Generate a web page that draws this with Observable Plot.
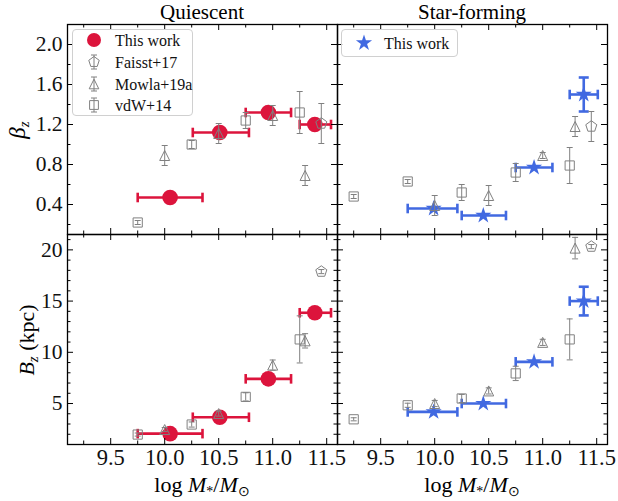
<!DOCTYPE html>
<html><head><meta charset="utf-8">
<script src="https://cdn.jsdelivr.net/npm/d3@7"></script>
<script src="https://cdn.jsdelivr.net/npm/@observablehq/plot@0.6"></script>
<style>
body{margin:0;background:#fff;}
#chart{position:relative;width:618px;height:501px;font-family:'Liberation Serif',serif;color:#000;overflow:hidden;background:#fff}
#chart svg{position:absolute;overflow:visible;background:none}
#chart svg text{font-family:'Liberation Serif',serif !important;}
.lbl{position:absolute;white-space:nowrap;line-height:1;}
.legend{position:absolute;border:1px solid #d0d0d0;border-radius:4px;background:rgba(255,255,255,0.85);}
</style></head><body><div id="chart"></div>
<script>
// ---------- axes ----------
const xDomain = [9.1, 11.6];
const xMajor = [9.5, 10.0, 10.5, 11.0, 11.5];
const xMinor = [9.25, 9.75, 10.25, 10.75, 11.25];
const betaDomain = [0.1, 2.2];
const betaMajor = [0.4, 0.8, 1.2, 1.6, 2.0];
const betaMinor = [0.2, 0.6, 1.0, 1.4, 1.8];
const bDomain = [1, 21.5];
const bMajor = [5, 10, 15, 20];
const bMinor = [2, 3, 4, 6, 7, 8, 9, 11, 12, 13, 14, 16, 17, 18, 19, 21];
const panelTitles = ["Quiescent", "Star-forming"];
const seriesNames = ["This work", "Faisst+17", "Mowla+19a", "vdW+14"];

// ---------- This work: quiescent ----------
const qMass = [10.05, 10.51, 10.96, 11.39];
const qMassLo = [9.75, 10.26, 10.75, 11.25];
const qMassHi = [10.35, 10.78, 11.17, 11.54];
const qBeta = [0.47, 1.12, 1.32, 1.20];
const qB = [2.06, 3.66, 7.41, 13.86];

// ---------- This work: star-forming ----------
const sMass = [9.99, 10.45, 10.92, 11.38];
const sMassLo = [9.75, 10.25, 10.75, 11.25];
const sMassHi = [10.21, 10.66, 11.09, 11.51];
const sBeta = [0.36, 0.29, 0.77, 1.50];
const sBetaErr = [0, 0, 0, 0.17];
const sB = [4.18, 5.0, 9.07, 15.0];
const sBErr = [0, 0, 0, 1.4];

// ---------- Faisst+17 ----------
const fMass = [11.45];
const fBetaQ = [1.21], fBetaQErr = [0.20];
const fBQ = [17.88], fBQErr = [0.2];
const fBetaS = [1.18], fBetaSErr = [0.15];
const fBS = [20.32], fBSErr = [0.2];

// ---------- Mowla+19a ----------
const mMass = [10.0, 10.5, 11.0, 11.3];
const mBetaQ = [0.89, 1.11, 1.29, 0.69], mBetaQErr = [0.1, 0.1, 0.1, 0.1];
const mBQ = [2.46, 4.02, 8.75, 11.12], mBQErr = [0.2, 0.25, 0.5, 0.7];
const mBetaS = [0.39, 0.49, 0.89, 1.18], mBetaSErr = [0.1, 0.1, 0.03, 0.1];
const mBS = [5.0, 6.23, 10.97, 20.17], mBSErr = [0.3, 0.3, 0.3, 1.05];

// ---------- vdW+14 ----------
const vMassQ = [9.75, 10.25, 10.75, 11.25];
const vBetaQ = [0.22, 1.00, 1.24, 1.32], vBetaQErr = [0.02, 0.04, 0.08, 0.21];
const vBQ = [1.97, 2.95, 5.65, 11.26], vBQErr = [0.15, 0.25, 0.4, 2.3];
const vMassS = [9.25, 9.75, 10.25, 10.75, 11.25];
const vBetaS = [0.48, 0.63, 0.52, 0.72, 0.79], vBetaSErr = [0.02, 0.02, 0.08, 0.09, 0.18];
const vBS = [3.46, 4.83, 5.49, 7.94, 11.26], vBSErr = [0.15, 0.2, 0.4, 0.7, 2.0];

// ---------- style ----------
const RED = "#dc143c", BLUE = "#4169e1", GRAY = "#808080";
const FONT = "'Liberation Serif', serif";

// ---------- symbols ----------
const sym = fn => ({draw(c, size) { const r = Math.sqrt(size / Math.PI); fn(c, r); }});
const vbar = sym((c, r) => { c.moveTo(0, -r); c.lineTo(0, r); });
const hbar = sym((c, r) => { c.moveTo(-r, 0); c.lineTo(r, 0); });
const triUp = sym((c, r) => { c.moveTo(0, -r); c.lineTo(r, r); c.lineTo(-r, r); c.closePath(); });
const square = sym((c, r) => { c.rect(-r, -r, 2 * r, 2 * r); });
const polyPts = (n, r, inner) => {
  const pts = [];
  const k = inner ? 2 * n : n;
  for (let i = 0; i < k; i++) {
    const a = -Math.PI / 2 + i * 2 * Math.PI / k;
    const rr = inner && i % 2 ? r * inner : r;
    pts.push([rr * Math.cos(a), rr * Math.sin(a)]);
  }
  return pts;
};
const pentagon = sym((c, r) => { polyPts(5, r).forEach(([x, y], i) => i ? c.lineTo(x, y) : c.moveTo(x, y)); c.closePath(); });
const star = sym((c, r) => { polyPts(5, r, 0.382).forEach(([x, y], i) => i ? c.lineTo(x, y) : c.moveTo(x, y)); c.closePath(); });

const rows = (xs, ys, es, lo, hi) => xs.map((x, i) => ({x, y: ys[i], e: es ? es[i] : 0, lo: lo ? lo[i] : x, hi: hi ? hi[i] : x}));

function grayMarks(data, symbol, r) {
  const withErr = data.filter(d => d.e > 0);
  return [
    Plot.ruleX(withErr, {x: "x", y1: d => d.y - d.e, y2: d => d.y + d.e, stroke: GRAY, strokeWidth: 1}),
    Plot.dot(withErr, {x: "x", y: d => d.y - d.e, symbol: hbar, r: 3, stroke: GRAY, fill: "none", strokeWidth: 1}),
    Plot.dot(withErr, {x: "x", y: d => d.y + d.e, symbol: hbar, r: 3, stroke: GRAY, fill: "none", strokeWidth: 1}),
    Plot.dot(data, {x: "x", y: "y", symbol, r, stroke: GRAY, fill: "none", strokeWidth: 1})
  ];
}
function workMarks(data, color, symbol, r) {
  const withErr = data.filter(d => d.e > 0);
  return [
    Plot.ruleY(data, {y: "y", x1: "lo", x2: "hi", stroke: color, strokeWidth: 2.6}),
    Plot.dot(data, {x: "lo", y: "y", symbol: vbar, r: 4.8, stroke: color, fill: "none", strokeWidth: 2.6}),
    Plot.dot(data, {x: "hi", y: "y", symbol: vbar, r: 4.8, stroke: color, fill: "none", strokeWidth: 2.6}),
    Plot.ruleX(withErr, {x: "x", y1: d => d.y - d.e, y2: d => d.y + d.e, stroke: color, strokeWidth: 2.6}),
    Plot.dot(withErr, {x: "x", y: d => d.y - d.e, symbol: hbar, r: 5, stroke: color, fill: "none", strokeWidth: 2.6}),
    Plot.dot(withErr, {x: "x", y: d => d.y + d.e, symbol: hbar, r: 5, stroke: color, fill: "none", strokeWidth: 2.6}),
    Plot.dot(data, {x: "x", y: "y", symbol, r, fill: color, stroke: "none"})
  ];
}

const W = 270, H = 210, MAJ = 6, MIN = 3.5;
function panel({left, top, width, height, mL, mR, mT, mB, yDomain, yMajor, yMinor, yFmt, showX, showY, marks}) {
  const tickMarks = [
    Plot.tickX(xMajor, {x: d => d, insetTop: H - MAJ, stroke: "black", strokeWidth: 1}),
    Plot.tickX(xMinor, {x: d => d, insetTop: H - MIN, stroke: "black", strokeWidth: 1}),
    Plot.tickX(xMajor, {x: d => d, insetBottom: H - MAJ, stroke: "black", strokeWidth: 1}),
    Plot.tickX(xMinor, {x: d => d, insetBottom: H - MIN, stroke: "black", strokeWidth: 1}),
    Plot.tickY(yMajor, {y: d => d, insetRight: W - MAJ, stroke: "black", strokeWidth: 1}),
    Plot.tickY(yMinor, {y: d => d, insetRight: W - MIN, stroke: "black", strokeWidth: 1}),
    Plot.tickY(yMajor, {y: d => d, insetLeft: W - MAJ, stroke: "black", strokeWidth: 1}),
    Plot.tickY(yMinor, {y: d => d, insetLeft: W - MIN, stroke: "black", strokeWidth: 1})
  ];
  const axes = [];
  if (showX) axes.push(Plot.axisX({ticks: xMajor, tickSize: 0, tickPadding: 5, tickFormat: d => d.toFixed(1), label: null, fontSize: 22.5, fontFamily: FONT, fill: "#111"}));
  if (showY) axes.push(Plot.axisY({ticks: yMajor, tickSize: 0, tickPadding: 5, tickFormat: yFmt, label: null, fontSize: 21.5, fontFamily: FONT, fill: "#111"}));
  const svg = Plot.plot({
    width, height, marginLeft: mL, marginRight: mR, marginTop: mT, marginBottom: mB,
    x: showX ? {domain: xDomain} : {domain: xDomain, axis: null},
    y: showY ? {domain: yDomain} : {domain: yDomain, axis: null},
    style: {fontFamily: FONT, fontSize: "21px", background: "none", overflow: "visible"},
    marks: [...marks, ...tickMarks, ...axes, Plot.frame({stroke: "black", strokeWidth: 1.3})]
  });
  svg.style.left = left + "px";
  svg.style.top = top + "px";
  document.getElementById("chart").appendChild(svg);
}

const fmtBeta = d => d.toFixed(1);
const fmtB = d => String(d);

// Top-left: beta_z quiescent
panel({left: 0, top: 0, width: 337, height: 234, mL: 67, mR: 0, mT: 24, mB: 0,
  yDomain: betaDomain, yMajor: betaMajor, yMinor: betaMinor, yFmt: fmtBeta, showX: false, showY: true,
  marks: [
    ...workMarks(rows(qMass, qBeta, null, qMassLo, qMassHi), RED, "circle", 7.8),
    ...grayMarks(rows(fMass, fBetaQ, fBetaQErr), pentagon, 5.8),
    ...grayMarks(rows(mMass, mBetaQ, mBetaQErr), triUp, 5),
    ...grayMarks(rows(vMassQ, vBetaQ, vBetaQErr), square, 4.6)
  ]});
// Top-right: beta_z star-forming
panel({left: 337, top: 0, width: 281, height: 234, mL: 0, mR: 11, mT: 24, mB: 0,
  yDomain: betaDomain, yMajor: betaMajor, yMinor: betaMinor, yFmt: fmtBeta, showX: false, showY: false,
  marks: [
    ...workMarks(rows(sMass, sBeta, sBetaErr, sMassLo, sMassHi), BLUE, star, 8.5),
    ...grayMarks(rows(fMass, fBetaS, fBetaSErr), pentagon, 5.8),
    ...grayMarks(rows(mMass, mBetaS, mBetaSErr), triUp, 5),
    ...grayMarks(rows(vMassS, vBetaS, vBetaSErr), square, 4.6)
  ]});
// Bottom-left: B_z quiescent
panel({left: 0, top: 234, width: 337, height: 267, mL: 67, mR: 0, mT: 0, mB: 57,
  yDomain: bDomain, yMajor: bMajor, yMinor: bMinor, yFmt: fmtB, showX: true, showY: true,
  marks: [
    ...workMarks(rows(qMass, qB, null, qMassLo, qMassHi), RED, "circle", 7.8),
    ...grayMarks(rows(fMass, fBQ, fBQErr), pentagon, 5.8),
    ...grayMarks(rows(mMass, mBQ, mBQErr), triUp, 5),
    ...grayMarks(rows(vMassQ, vBQ, vBQErr), square, 4.6)
  ]});
// Bottom-right: B_z star-forming
panel({left: 337, top: 234, width: 281, height: 267, mL: 0, mR: 11, mT: 0, mB: 57,
  yDomain: bDomain, yMajor: bMajor, yMinor: bMinor, yFmt: fmtB, showX: true, showY: false,
  marks: [
    ...workMarks(rows(sMass, sB, sBErr, sMassLo, sMassHi), BLUE, star, 8.5),
    ...grayMarks(rows(fMass, fBS, fBSErr), pentagon, 5.8),
    ...grayMarks(rows(mMass, mBS, mBSErr), triUp, 5),
    ...grayMarks(rows(vMassS, vBS, vBSErr), square, 4.6)
  ]});

// ---------- text labels ----------
const chart = document.getElementById("chart");
function addLabel(html, css) {
  const d = document.createElement("div");
  d.className = "lbl";
  d.innerHTML = html;
  Object.assign(d.style, css);
  chart.appendChild(d);
  return d;
}
addLabel(panelTitles[0], {left: "202px", top: "2px", fontSize: "21px", transform: "translateX(-50%)"});
addLabel(panelTitles[1], {left: "472px", top: "2px", fontSize: "21px", transform: "translateX(-50%)"});
const xTitle = 'log <i>M</i><sub style="font-size:14px;vertical-align:-4px">*</sub>/<i>M</i><sub style="font-size:14px;vertical-align:-4px">⊙</sub>';
addLabel(xTitle, {left: "202px", top: "474px", fontSize: "22px", transform: "translateX(-50%)"});
addLabel(xTitle, {left: "472px", top: "474px", fontSize: "22px", transform: "translateX(-50%)"});
addLabel('<i>β</i><sub style="font-size:15px;vertical-align:-4px"><i>z</i></sub>', {left: "19px", top: "130px", fontSize: "23px", transform: "translate(-50%,-50%) rotate(-90deg)"});
addLabel('<i>B</i><sub style="font-size:15px;vertical-align:-4px"><i>z</i></sub> (kpc)', {left: "28px", top: "340px", fontSize: "22px", transform: "translate(-50%,-50%) rotate(-90deg)"});

// ---------- legends ----------
function legend(left, top, w, h, entries) {
  const box = document.createElement("div");
  box.className = "legend";
  Object.assign(box.style, {left: left + "px", top: top + "px", width: w + "px", height: h + "px"});
  chart.appendChild(box);
  const svg = d3.select(box).append("svg").attr("width", w).attr("height", h).style("left", "0px").style("top", "0px");
  entries.forEach(e => {
    const cy = e.y;
    const g = svg.append("g").attr("transform", `translate(${e.mx},${cy})`);
    if (e.err) {
      g.append("line").attr("x1", 0).attr("x2", 0).attr("y1", -7).attr("y2", 7).attr("stroke", GRAY);
      g.append("line").attr("x1", -3).attr("x2", 3).attr("y1", -7).attr("y2", -7).attr("stroke", GRAY);
      g.append("line").attr("x1", -3).attr("x2", 3).attr("y1", 7).attr("y2", 7).attr("stroke", GRAY);
    }
    g.append("path").attr("d", d3.symbol(e.symbol, Math.PI * e.r * e.r)())
      .attr("fill", e.fill).attr("stroke", e.stroke).attr("stroke-width", 1);
    svg.append("text").attr("x", e.tx).attr("y", cy).attr("dy", "0.35em")
      .style("font-family", FONT).style("font-size", "16px").attr("fill", "#111").text(e.label);
  });
}
legend(72, 29, 119, 85, [
  {y: 10, mx: 21, tx: 42, symbol: d3.symbolCircle, r: 7, fill: RED, stroke: "none", label: seriesNames[0]},
  {y: 32, mx: 21, tx: 42, symbol: pentagon, r: 5.5, fill: "none", stroke: GRAY, err: true, label: seriesNames[1]},
  {y: 54, mx: 21, tx: 42, symbol: triUp, r: 4.8, fill: "none", stroke: GRAY, err: true, label: seriesNames[2]},
  {y: 75, mx: 21, tx: 42, symbol: square, r: 4.4, fill: "none", stroke: GRAY, err: true, label: seriesNames[3]}
]);
legend(341, 29, 115, 26, [
  {y: 13, mx: 22, tx: 42, symbol: star, r: 8.5, fill: BLUE, stroke: "none", label: seriesNames[0]}
]);
</script></body></html>
